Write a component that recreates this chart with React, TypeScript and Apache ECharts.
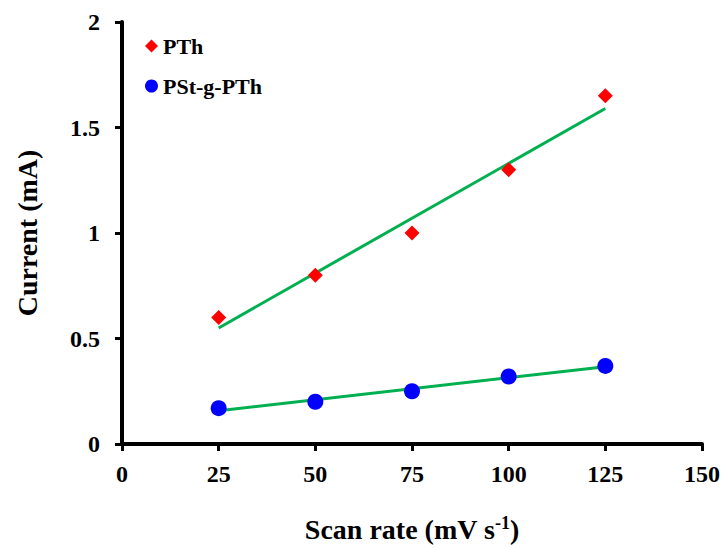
import React, { useEffect, useRef } from "react";
import * as echarts from "echarts";

const scanRates = [25, 50, 75, 100, 125];
const pthCurrent = [0.6, 0.8, 1.0, 1.3, 1.65];
const pstCurrent = [0.17, 0.2, 0.25, 0.32, 0.37];
const xTicks = [0, 25, 50, 75, 100, 125, 150];
const yTicks = [0, 0.5, 1, 1.5, 2];

function fit(xs: number[], ys: number[]) {
  const n = xs.length;
  const mx = xs.reduce((a, b) => a + b, 0) / n;
  const my = ys.reduce((a, b) => a + b, 0) / n;
  let num = 0, den = 0;
  for (let i = 0; i < n; i++) {
    num += (xs[i] - mx) * (ys[i] - my);
    den += (xs[i] - mx) ** 2;
  }
  const s = num / den;
  const b = my - s * mx;
  const x0 = xs[0], x1 = xs[n - 1];
  return [[x0, s * x0 + b], [x1, s * x1 + b]];
}

export default function App() {
  const ref = useRef<HTMLDivElement>(null);
  useEffect(() => {
    const chart = echarts.init(ref.current!, null, { renderer: "svg" });
    const font = "'Liberation Serif', 'Times New Roman', serif";
    chart.setOption({
      animation: false,
      textStyle: { fontFamily: font },
      grid: { left: 122, right: 19, top: 22, bottom: 102 },
      legend: {
        data: [
          { name: "PTh", icon: "diamond" },
          { name: "PSt-g-PTh", icon: "circle" },
        ],
        orient: "vertical",
        left: 145,
        top: 35,
        itemGap: 18,
        itemWidth: 13,
        itemHeight: 13,
        padding: 0,
        textStyle: { fontFamily: font, fontWeight: "bold", fontSize: 22, color: "#000" },
      },
      xAxis: {
        type: "value",
        min: 0,
        max: 150,
        interval: 25,
        splitLine: { show: false },
        axisLine: { show: true, lineStyle: { color: "#000", width: 4 } },
        axisTick: { show: true, length: 7, lineStyle: { color: "#000", width: 3 } },
        axisLabel: {
          color: "#000", fontWeight: "bold", fontSize: 24, fontFamily: font, margin: 18,
          formatter: (v: number) => (xTicks.includes(v) ? String(v) : ""),
        },
        name: "{a|Scan rate (mV s}{b|-1}{a|)}",
        nameLocation: "middle",
        nameGap: 70,
        nameTextStyle: {
          rich: {
            a: { fontFamily: font, fontWeight: "bold", fontSize: 28, color: "#000" },
            b: { fontFamily: font, fontWeight: "bold", fontSize: 18, color: "#000", verticalAlign: "top", padding: [0, 0, 12, 0] },
          },
        },
      },
      yAxis: {
        type: "value",
        min: 0,
        max: 2,
        interval: 0.5,
        splitLine: { show: false },
        axisLine: { show: true, lineStyle: { color: "#000", width: 4 } },
        axisTick: { show: true, length: 7, lineStyle: { color: "#000", width: 3 } },
        axisLabel: {
          color: "#000", fontWeight: "bold", fontSize: 24, fontFamily: font, margin: 22,
          formatter: (v: number) => (yTicks.includes(v) ? String(v) : ""),
        },
        name: "Current (mA)",
        nameLocation: "middle",
        nameGap: 81,
        nameTextStyle: { fontFamily: font, fontWeight: "bold", fontSize: 28, color: "#000" },
      },
      series: [
        {
          name: "PTh fit",
          type: "line",
          data: fit(scanRates, pthCurrent),
          symbol: "none",
          lineStyle: { color: "#00B050", width: 3 },
          z: 1,
        },
        {
          name: "PSt-g-PTh fit",
          type: "line",
          data: fit(scanRates, pstCurrent),
          symbol: "none",
          lineStyle: { color: "#00B050", width: 3 },
          z: 1,
        },
        {
          name: "PTh",
          type: "scatter",
          data: scanRates.map((x, i) => [x, pthCurrent[i]]),
          symbol: "diamond",
          symbolSize: 15,
          itemStyle: { color: "#FF0000", opacity: 1 },
          z: 3,
        },
        {
          name: "PSt-g-PTh",
          type: "scatter",
          data: scanRates.map((x, i) => [x, pstCurrent[i]]),
          symbol: "circle",
          symbolSize: 16,
          itemStyle: { color: "#0000FF", opacity: 1 },
          z: 3,
        },
      ],
    });
    return () => chart.dispose();
  }, []);
  return <div ref={ref} style={{ width: 723, height: 548, position: "absolute", left: 0, top: 0, background: "#fff" }} />;
}
